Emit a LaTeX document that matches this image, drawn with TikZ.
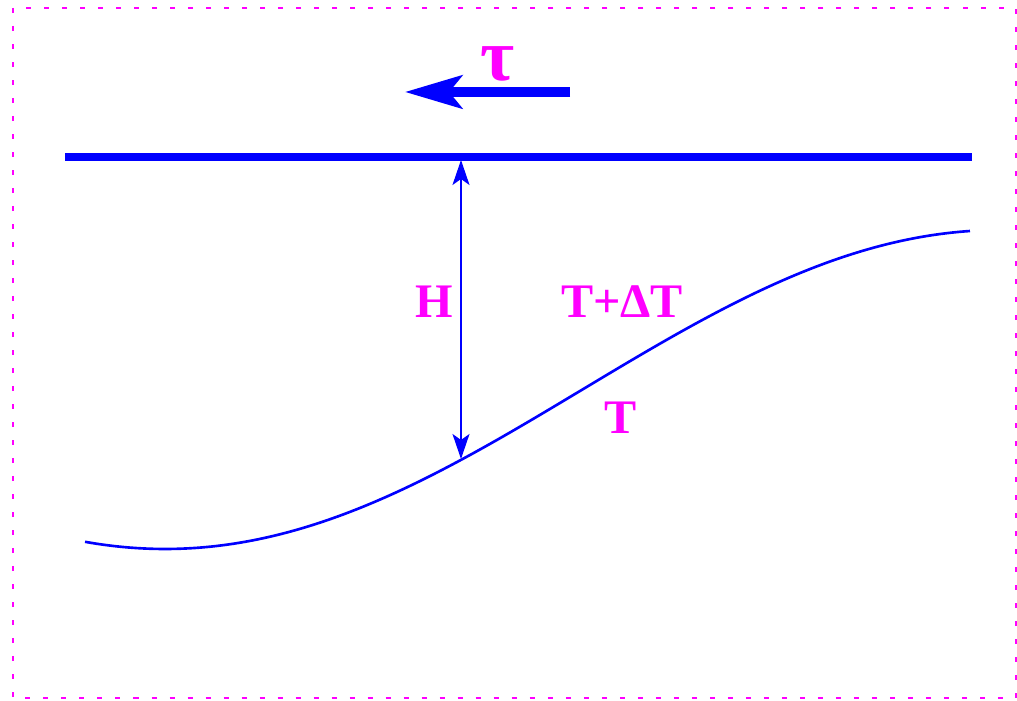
\documentclass[tikz,border=0pt]{standalone}
\usepackage{fontspec}
\setmainfont{Liberation Serif}
\usetikzlibrary{arrows.meta}
\definecolor{rosa}{RGB}{255,0,255}
\definecolor{azul}{RGB}{0,0,255}

\begin{document}
\begin{tikzpicture}[x=0.01cm, y=-0.01cm,
    every node/.style={font=\fontsize{13.7}{16}\selectfont\bfseries, text=rosa, inner sep=0pt},
    marco/.style={rosa, line width=0.6pt, dash pattern=on 0.05cm off 0.13cm},
    pared/.style={azul, line width=2.1pt},
    esfuerzo/.style={azul, line width=2.7pt, -{Stealth[length=5.7mm, width=3.3mm, inset=1.3mm]}},
    cota/.style={azul, line width=0.45pt, {Stealth[length=2.5mm, width=1.7mm, inset=0.6mm]}-{Stealth[length=2.5mm, width=1.7mm, inset=0.6mm]}},
    interfaz/.style={azul, line width=0.75pt}]

% =============================================
% Marco punteado
% =============================================
\useasboundingbox (0,0) rectangle (1017,701);
\draw[marco] (13,8) rectangle (1016,698);

% =============================================
% Superficie superior y esfuerzo tau
% =============================================
\draw[pared] (65,157) -- (972,157);
\coordinate (tauIni) at (570,92);
\coordinate (tauFin) at (405,92);
\draw[esfuerzo] (tauIni) -- (tauFin);
\node[font=\fontsize{21}{24}\selectfont\bfseries] (tau) at (498,64) {τ};

% =============================================
% Interfaz (perfil sinusoidal)
% =============================================
\draw[interfaz] plot[domain=85:970, samples=120, smooth] (\x, {389.5+159.5*cos(((\x)-165)/835*180)});

% Espesor H
\coordinate (arriba) at (461,160);
\coordinate (abajo) at (461,459);
\draw[cota] (arriba) -- (abajo);
\node (H) at (434,302) {H};

% Temperaturas
\node (TdT) at (622,302) {T+ΔT};
\node (T) at (621,418) {T};

\end{tikzpicture}
\end{document}
